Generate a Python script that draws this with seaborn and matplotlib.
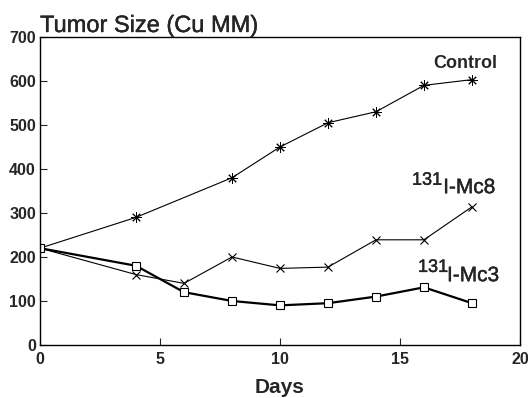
import matplotlib
matplotlib.use("Agg")
import matplotlib.pyplot as plt
import matplotlib.patheffects as pe
import seaborn as sns

days_control = [0, 4, 8, 10, 12, 14, 16, 18]
control = [220, 290, 380, 450, 505, 530, 590, 603]

days_mc8 = [0, 4, 6, 8, 10, 12, 14, 16, 18]
mc8 = [220, 160, 140, 200, 174, 177, 239, 239, 314]

days_mc3 = [0, 4, 6, 8, 10, 12, 14, 16, 18]
mc3 = [220, 180, 120, 100, 90, 95, 110, 131, 95]

x_ticks = [0, 5, 10, 15, 20]
y_ticks = [0, 100, 200, 300, 400, 500, 600, 700]

sns.set_style("ticks")
plt.rcParams["font.family"] = ["Liberation Sans", "DejaVu Sans"]

fig = plt.figure(figsize=(5.28, 3.98), dpi=100)
ax = fig.add_axes([0.0758, 0.1332, 0.909, 0.774])

star = (8, 2, 0)
sns.lineplot(x=days_control, y=control, ax=ax, color="black", linewidth=0.8,
             marker=star, markersize=7.5, markeredgewidth=0.7,
             markerfacecolor="black", markeredgecolor="black")
sns.lineplot(x=days_mc8, y=mc8, ax=ax, color="black", linewidth=0.8,
             marker="x", markersize=5.5, markeredgewidth=0.8,
             markeredgecolor="black")
sns.lineplot(x=days_mc3, y=mc3, ax=ax, color="black", linewidth=1.6,
             marker="s", markersize=6, markeredgewidth=0.8,
             markerfacecolor="white", markeredgecolor="black")

ax.set_xlim(0, 20)
ax.set_ylim(0, 700)
ax.set_xticks(x_ticks)
ax.set_yticks(y_ticks)
ax.tick_params(axis="y", direction="in", length=5, width=0.8, labelsize=11.5,
               right=False, pad=3)
ax.tick_params(axis="x", direction="in", length=5, width=0.8, labelsize=11.5,
               top=False, pad=5)
for lbl in ax.get_xticklabels() + ax.get_yticklabels():
    lbl.set_fontweight("bold")
for s in ax.spines.values():
    s.set_linewidth(1.0)
    s.set_color("black")

# slightly heavier strokes for the regular-weight captions
heavy = [pe.withStroke(linewidth=0.25, foreground="black")]

ax.set_xlabel("Days", fontsize=15, fontweight="bold", labelpad=8)
ax.set_ylabel("")
fig.text(0.0758, 0.9196, "Tumor Size (Cu MM)", fontsize=17, ha="left",
         va="baseline", path_effects=heavy)

# series labels
ax.text(16.375, 630, "Control", fontsize=13, fontweight="bold", va="baseline")
ax.text(15.5, 364, "131", fontsize=13, va="baseline", path_effects=heavy)
ax.text(16.8, 345, "I-Mc8", fontsize=15, va="baseline", path_effects=heavy)
ax.text(15.75, 166, "131", fontsize=13, va="baseline", path_effects=heavy)
ax.text(16.96, 145, "I-Mc3", fontsize=15, va="baseline", path_effects=heavy)

fig.savefig("out.png", dpi=100)
